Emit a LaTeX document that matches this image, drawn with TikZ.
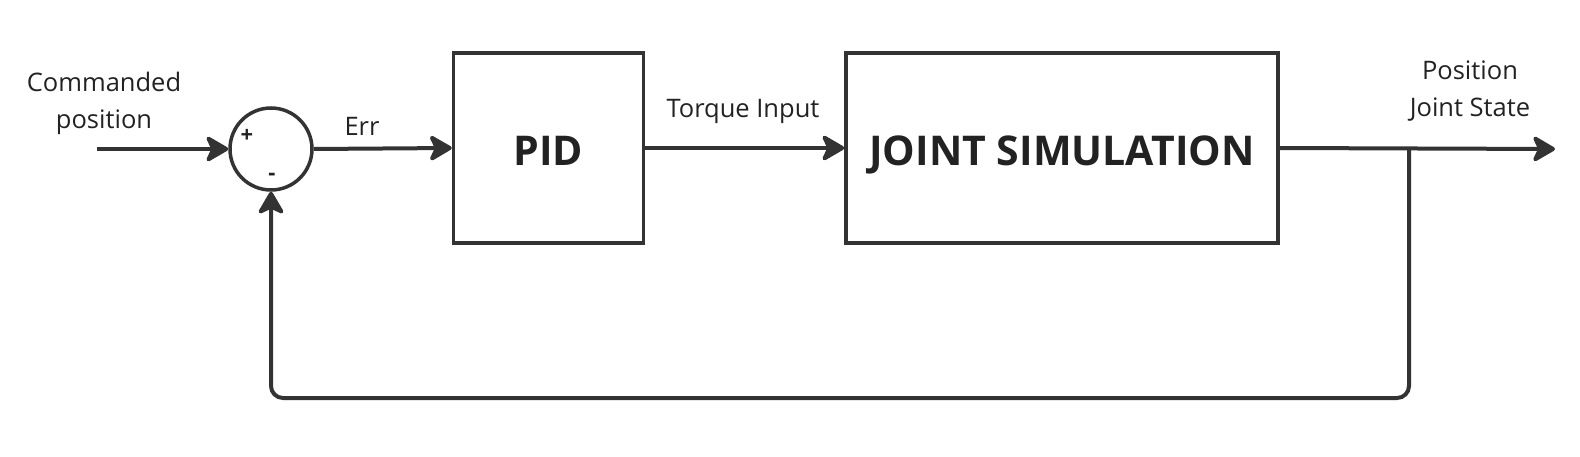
\documentclass[tikz,border=0pt]{standalone}
\usepackage{fontspec}
\setmainfont{Open Sans}
\usetikzlibrary{arrows.meta}
\definecolor{ln}{HTML}{333333}
\definecolor{tx}{HTML}{222222}
\tikzset{
  blockbox/.style={draw=ln, line width=3.5pt, minimum height=190pt, inner sep=0pt, text=tx,
    text height=36pt, text depth=0pt, font=\fontsize{41}{48}\selectfont\bfseries},
  lbl/.style={text=tx, align=center, inner sep=0pt, font=\fontsize{25.5}{37}\selectfont},
  sgn/.style={text=tx, inner sep=0pt, font=\fontsize{22}{22}\selectfont\bfseries},
  conn/.style={draw=ln, line width=4pt, -{Stealth[length=26pt,width=30pt,inset=7pt,round]}},
}
\begin{document}
\begin{tikzpicture}[x=1pt,y=-1pt]
\useasboundingbox (0,0) rectangle (1580,457);
\node[draw=ln, line width=3.5pt, circle, minimum size=82pt, inner sep=0pt] (sum) at (271,149) {};
\node[blockbox, minimum width=190pt] (pid) at (548.5,148) {PID};
\node[blockbox, minimum width=432pt] (sim) at (1062,148) {JOINT SIMULATION};
\coordinate (in) at (97,149);
\coordinate (out) at (1555,149);
\coordinate (br) at (1409,149);
\coordinate (fb) at (1409,398);
\node[lbl] (cmd) at (104,103) {Commanded\\position};
\node[lbl] (err) at (362,126) {Err};
\node[lbl] (tq) at (743,111) {Torque Input};
\node[lbl] (pjs) at (1470,91) {Position\\Joint State};
\node[sgn] (plus) at (247,136) {+};
\node[sgn] (minus) at (272,177) {-};
\draw[conn] (in) -- (sum.west);
\draw[conn] (sum.east) -- (pid.west);
\draw[conn] (pid.east) -- (sim.west);
\draw[conn] (sim.east) -- (out);
\draw[conn, rounded corners=12pt] (br) -- (fb) -| (sum.south);
\end{tikzpicture}
\end{document}
